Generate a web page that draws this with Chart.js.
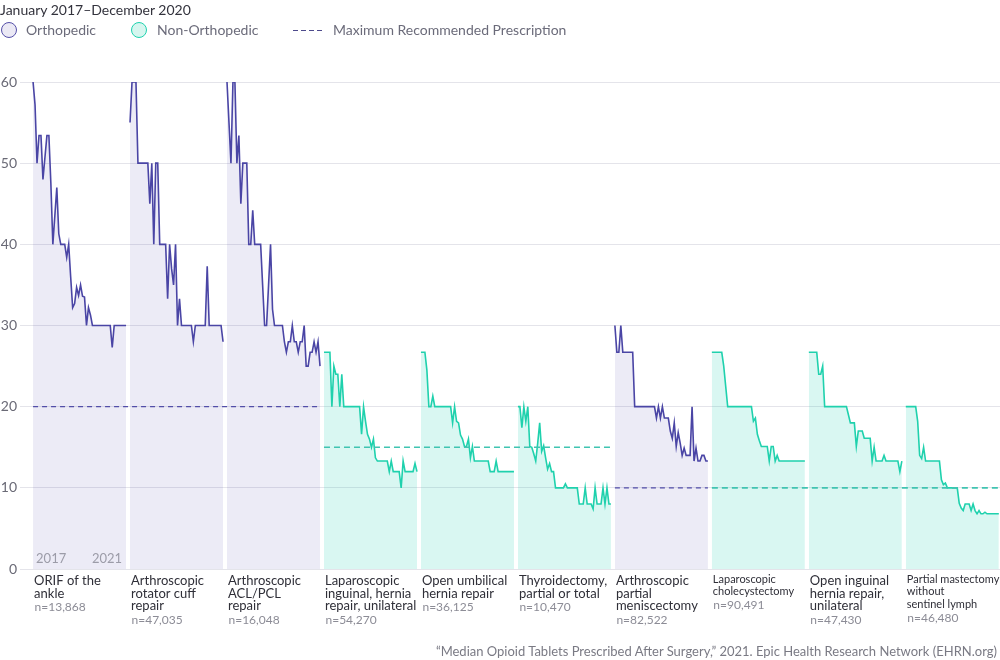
<!DOCTYPE html>
<html>
<head>
<meta charset="utf-8">
<script src="https://cdn.jsdelivr.net/npm/chart.js@4.4.1/dist/chart.umd.min.js"></script>
<style>
  body { margin: 0; background: #fff; font-family: Lato, "Noto Sans", sans-serif; }
  #wrap { position: relative; width: 1000px; height: 660px; overflow: hidden; }
  #chart { position: absolute; left: 0; top: 0; }
  .period { position: absolute; left: 0; top: 1px; font-size: 14px; color: #33333d; white-space: nowrap; }
  .key { position: absolute; top: 21px; height: 18px; line-height: 18px; font-size: 14px; color: #6b6b7a; white-space: nowrap; }
  .dot { position: absolute; top: 1px; width: 16px; height: 16px; border-radius: 50%; box-sizing: border-box; }
  .dash { position: absolute; top: 9px; width: 29px; height: 1.3px;
          background: repeating-linear-gradient(to right, #4d4a8c 0 5px, transparent 5px 8px); }
  .source { position: absolute; right: 3px; top: 643px; font-size: 13px; color: #7a7a84; white-space: nowrap; }
</style>
</head>
<body>
<div id="wrap">
  <canvas id="chart" width="1000" height="660"></canvas>
  <div class="period">January 2017–December 2020</div>
  <div class="key" style="left:1px"><span class="dot" style="left:0;background:#ebe9f5;border:1.5px solid #5550a8"></span><span style="position:absolute;left:25px">Orthopedic</span></div>
  <div class="key" style="left:131px"><span class="dot" style="left:0;background:#d6f6ef;border:1.5px solid #1fd1ae"></span><span style="position:absolute;left:26px">Non-Orthopedic</span></div>
  <div class="key" style="left:293px"><span class="dash"></span><span style="position:absolute;left:40px">Maximum Recommended Prescription</span></div>
  <div class="source">“Median Opioid Tablets Prescribed After Surgery,” 2021. Epic Health Research Network (EHRN.org)</div>
</div>
<script>
// median tablets per month, Jan 2017 - Dec 2020 (48 months each)
const orifAnkle = [60, 57.2, 50, 53.4, 53.4, 48, 50.7, 53.4, 53.4, 47.5,
  40, 43.5, 47, 41.3, 40, 40, 40, 38.4, 40, 36,
  32.2, 32.7, 34.7, 33.7, 35, 33.6, 33.5, 30, 32.2, 31.3,
  30, 30, 30, 30, 30, 30, 30, 30, 30, 30,
  27.3, 30, 30, 30, 30, 30, 30, 30];
const rotatorCuff = [55, 60, 60, 60, 50, 50, 50, 50, 50, 50,
  45, 50, 40, 50, 50, 40, 40, 40, 40, 33.3,
  40, 37, 35, 40, 30, 33.3, 30, 30, 30, 30,
  30, 30, 28, 30, 30, 30, 30, 30, 30, 37.3,
  30, 30, 30, 30, 30, 30, 30, 28];
const aclPcl = [60, 55, 50, 60, 60, 50, 53.4, 45, 50, 50,
  50, 40, 40, 44.2, 40, 40, 40, 40, 35, 30,
  30, 35, 40, 32, 30, 30, 30, 30, 30, 28,
  26.7, 28, 28, 30, 28, 28, 26.7, 28, 28, 30,
  25, 25, 26.7, 26.7, 28, 26.7, 28, 25];
const lapInguinal = [26.7, 26.7, 26.7, 26.7, 20, 25, 24, 24, 20, 24,
  20, 20, 20, 20, 20, 20, 20, 20, 20, 16.6,
  20, 18.2, 16.6, 16, 15, 16, 13.7, 13.3, 13.3, 13.3,
  13.3, 13.3, 13.3, 12, 13.3, 12, 12, 12, 12, 10,
  13.3, 12, 12, 12, 12, 12, 13, 12];
const umbilical = [26.7, 26.7, 26.7, 24.5, 20, 20, 21.3, 20, 20, 20,
  20, 20, 20, 20, 20, 20, 18, 20, 18.2, 18,
  16.5, 16, 15.1, 15.1, 16, 13.7, 15.1, 13.3, 13.3, 13.3,
  13.3, 13.3, 13.3, 13.3, 13.3, 12, 12, 12, 13.3, 12,
  12, 12, 12, 12, 12, 12, 12, 12];
const thyroid = [20, 20, 17.4, 20, 18.2, 20, 15.1, 15, 14.2, 13.3,
  15.5, 18, 14.5, 15.2, 13.7, 12.3, 13, 12, 12, 10,
  10, 10, 10, 10, 10.5, 10, 10, 10, 10, 10,
  10, 8, 8, 8, 10, 8, 8, 8, 7.4, 10,
  8, 8, 8, 10, 8, 10, 8, 8];
const meniscectomy = [30, 26.7, 26.7, 30, 26.7, 26.7, 26.7, 26.7, 26.7, 26.7,
  20, 20, 20, 20, 20, 20, 20, 20, 20, 20,
  20, 18.6, 20, 18.6, 20, 18.6, 18.6, 18.6, 17, 16.1,
  18, 15.1, 16.8, 15.5, 14, 14.9, 14, 14, 14, 20,
  13.3, 14.9, 13.3, 13.3, 14, 14, 13.3, 13.3];
const cholecystectomy = [26.7, 26.7, 26.7, 26.7, 26.7, 26.7, 25, 22.5, 20, 20,
  20, 20, 20, 20, 20, 20, 20, 20, 20, 20,
  20, 18.2, 18.6, 16.6, 15.8, 15.1, 15.1, 15.1, 15.1, 13.3,
  15.1, 15.1, 13.3, 14, 13.3, 13.3, 13.3, 13.3, 13.3, 13.3,
  13.3, 13.3, 13.3, 13.3, 13.3, 13.3, 13.3, 13.3];
const openInguinal = [26.7, 26.7, 26.7, 26.7, 26.7, 24, 24, 25, 20, 20,
  20, 20, 20, 20, 20, 20, 20, 20, 20, 20,
  19, 18, 18, 18, 15.1, 17, 17, 17, 16.1, 16.1,
  16.1, 16.1, 13.3, 15, 13.3, 13.3, 13.3, 13.3, 14, 13.3,
  13.3, 13.3, 13.3, 13.3, 13.3, 13.3, 12, 13.3];
const mastectomy = [20, 20, 20, 20, 20, 20, 18.2, 14, 13.6, 15,
  13.3, 13.3, 13.3, 13.3, 13.3, 13.3, 13.3, 13.3, 11, 10.4,
  10.6, 10, 10, 10, 10, 10, 10, 8.1, 7.5, 7.2,
  8, 8, 8, 7.2, 8, 7.2, 6.8, 7.2, 6.8, 6.8,
  7, 6.8, 6.8, 6.8, 6.8, 6.8, 6.8, 6.8];

const series = [orifAnkle, rotatorCuff, aclPcl, lapInguinal, umbilical, thyroid,
  meniscectomy, cholecystectomy, openInguinal, mastectomy];
const groups = ['Orthopedic', 'Orthopedic', 'Orthopedic', 'Non-Orthopedic', 'Non-Orthopedic',
  'Non-Orthopedic', 'Orthopedic', 'Non-Orthopedic', 'Non-Orthopedic', 'Non-Orthopedic'];
const maxRecommended = [20, 20, 20, 15, 15, 15, 10, 10, 10, 10];
const procedureLabels = [
  ['ORIF of the', 'ankle'],
  ['Arthroscopic', 'rotator cuff', 'repair'],
  ['Arthroscopic', 'ACL/PCL', 'repair'],
  ['Laparoscopic', 'inguinal, hernia', 'repair, unilateral'],
  ['Open umbilical', 'hernia repair'],
  ['Thyroidectomy,', 'partial or total'],
  ['Arthroscopic', 'partial', 'meniscectomy'],
  ['Laparoscopic', 'cholecystectomy'],
  ['Open inguinal', 'hernia repair,', 'unilateral'],
  ['Partial mastectomy', 'without', 'sentinel lymph']
];
const sampleSizes = ['n=13,868', 'n=47,035', 'n=16,048', 'n=54,270', 'n=36,125',
  'n=10,470', 'n=82,522', 'n=90,491', 'n=47,430', 'n=46,480'];
const compactLabels = [7, 9];   // these two are set in a smaller type
const yearLabels = ['2017', '2021'];
const yTicks = [0, 10, 20, 30, 40, 50, 60];

const PITCH = 49;       // 48 months + a small gap between panels
const LAST_MONTH = 47;
const PURPLE = '#4a45a5';
const PURPLE_FILL = 'rgba(75, 68, 166, 0.105)';
const TEAL = '#1fd1ad';
const TEAL_FILL = 'rgba(30, 210, 176, 0.17)';

const datasets = [];
series.forEach((values, i) => {
  const ortho = groups[i] === 'Orthopedic';
  datasets.push({
    label: procedureLabels[i].join(' '),
    data: values.map((v, m) => ({ x: i * PITCH + m, y: v })),
    borderColor: ortho ? PURPLE : TEAL,
    backgroundColor: ortho ? PURPLE_FILL : TEAL_FILL,
    borderWidth: 1.6,
    fill: 'origin',
    pointRadius: 0,
    tension: 0,
    order: 2
  });
});

// one dashed reference line per run of panels sharing the same recommendation
let runStart = 0;
for (let i = 1; i <= series.length; i++) {
  if (i === series.length || maxRecommended[i] !== maxRecommended[runStart] || groups[i] !== groups[runStart]) {
    const ortho = groups[runStart] === 'Orthopedic';
    datasets.push({
      label: 'Maximum Recommended Prescription',
      data: [
        { x: runStart * PITCH, y: maxRecommended[runStart] },
        { x: (i - 1) * PITCH + LAST_MONTH, y: maxRecommended[runStart] }
      ],
      borderColor: ortho ? '#524ea8' : '#40c4b1',
      borderDash: ortho ? [5, 4] : [6, 4],
      borderWidth: ortho ? 1.2 : 1.6,
      fill: false,
      pointRadius: 0,
      order: 1
    });
    runStart = i;
  }
}

const panelLabels = {
  id: 'panelLabels',
  afterDraw(chart) {
    const { ctx, scales: { x, y } } = chart;
    const base = y.getPixelForValue(0);
    ctx.save();
    ctx.textBaseline = 'middle';

    ctx.fillStyle = '#9c9ca8';
    ctx.font = '13px Lato';
    ctx.textAlign = 'left';
    ctx.fillText(yearLabels[0], x.getPixelForValue(0) + 3, base - 10);
    ctx.textAlign = 'right';
    ctx.fillText(yearLabels[1], x.getPixelForValue(LAST_MONTH) - 4, base - 10);

    ctx.textAlign = 'left';
    procedureLabels.forEach((lines, i) => {
      const left = x.getPixelForValue(i * PITCH);
      const small = compactLabels.includes(i);
      let ty = base + (small ? 10 : 11.7);
      ctx.fillStyle = '#2f2f38';
      ctx.font = (small ? '11px' : '13px') + ' Lato';
      lines.forEach(line => {
        ctx.fillText(line, left + 1, ty);
        ty += 12.8;
      });
      ctx.fillStyle = '#8c8c96';
      ctx.font = '12px Lato';
      ctx.fillText(sampleSizes[i], left + 1.5, ty + 1);
    });
    ctx.restore();
  }
};

new Chart(document.getElementById('chart').getContext('2d'), {
  type: 'line',
  data: { datasets: datasets },
  options: {
    responsive: false,
    animation: false,
    events: [],
    layout: { padding: { top: 82, bottom: 91, left: 0, right: 0 } },
    plugins: { legend: { display: false }, tooltip: { enabled: false } },
    scales: {
      x: { type: 'linear', min: -6.6, max: 488.6, display: false },
      y: {
        min: 0,
        max: 60,
        afterFit: scale => { scale.width = 20; },
        afterBuildTicks: scale => { scale.ticks = yTicks.map(v => ({ value: v })); },
        ticks: { padding: 3, color: '#6a6a76', font: { family: 'Lato', size: 14 } },
        grid: { color: '#e4e4ea', drawTicks: false },
        border: { display: false }
      }
    }
  },
  plugins: [panelLabels]
});
</script>
</body>
</html>
